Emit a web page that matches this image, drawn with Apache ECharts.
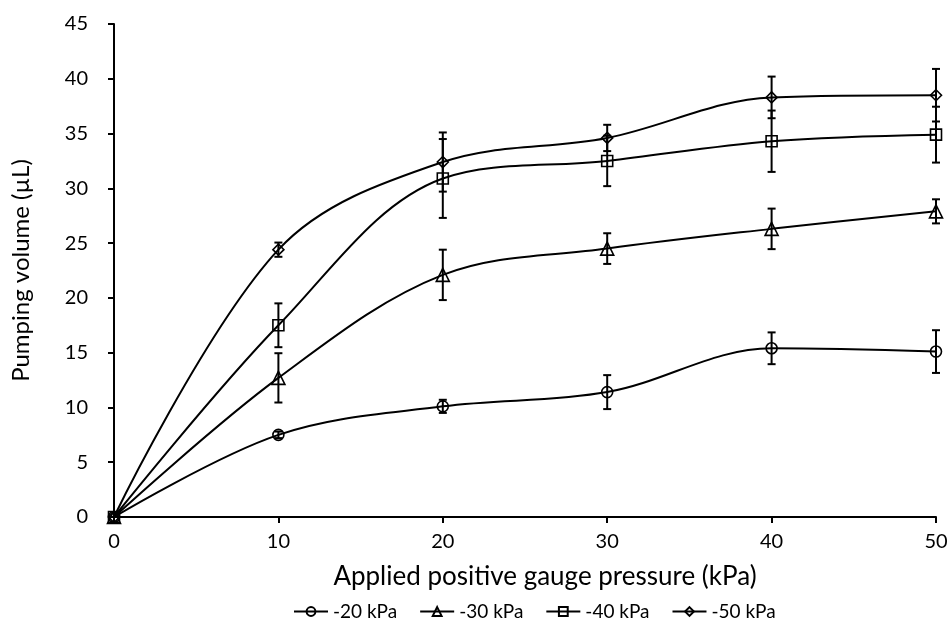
<!DOCTYPE html>
<html>
<head>
<meta charset="utf-8">
<script src="https://cdn.jsdelivr.net/npm/echarts@6/dist/echarts.min.js"></script>
<style>
  html, body { margin: 0; padding: 0; background: #fff; }
  #chart { width: 952px; height: 626px; }
</style>
</head>
<body>
<div id="chart"></div>
<script>
const pressure = [0, 10, 20, 30, 40, 50];
const seriesNames = ['-20 kPa', '-30 kPa', '-40 kPa', '-50 kPa'];
const symbols = ['circle', 'triangle', 'rect', 'diamond'];

const vol20 = [0, 7.5, 10.1, 11.4, 15.4, 15.1];
const err20 = [0, 0.3, 0.6, 1.55, 1.45, 1.95];
const vol30 = [0, 12.7, 22.1, 24.5, 26.3, 27.9];
const err30 = [0, 2.25, 2.3, 1.4, 1.85, 1.1];
const vol40 = [0, 17.5, 30.9, 32.5, 34.3, 34.9];
const err40 = [0, 2.0, 3.6, 2.3, 2.8, 2.55];
const vol50 = [0, 24.4, 32.4, 34.6, 38.3, 38.5];
const err50 = [0, 0.65, 2.7, 1.2, 1.9, 2.4];

const values = [vol20, vol30, vol40, vol50];
const errors = [err20, err30, err40, err50];

const font = 'Lato, "Open Sans", sans-serif';

const series = [];
values.forEach((v, i) => {
    series.push({
        name: seriesNames[i],
        type: 'line',
        smooth: 0.35,
        data: pressure.map((x, k) => [x, v[k]]),
        symbol: symbols[i],
        symbolSize: i === 1 ? 13 : 11,
        lineStyle: {color: '#000', width: 2},
        itemStyle: {color: 'rgba(255,255,255,0)', borderColor: '#000', borderWidth: 1.6},
        z: 3
    });
    // error bars
    series.push({
        name: seriesNames[i],
        type: 'custom',
        data: pressure.map((x, k) => [x, v[k] - errors[i][k], v[k] + errors[i][k]]),
        renderItem: (params, api) => {
            const lo = api.coord([api.value(0), api.value(1)]);
            const hi = api.coord([api.value(0), api.value(2)]);
            const w = 4;
            const style = {stroke: '#000', lineWidth: 2};
            return {
                type: 'group',
                children: [
                    {type: 'line', shape: {x1: lo[0], y1: lo[1], x2: hi[0], y2: hi[1]}, style: style},
                    {type: 'line', shape: {x1: lo[0] - w, y1: lo[1], x2: lo[0] + w, y2: lo[1]}, style: style},
                    {type: 'line', shape: {x1: hi[0] - w, y1: hi[1], x2: hi[0] + w, y2: hi[1]}, style: style}
                ]
            };
        },
        z: 2
    });
});

const chart = echarts.init(document.getElementById('chart'));
chart.setOption({
    backgroundColor: '#fff',
    animation: false,
    grid: {left: 114, right: 16, top: 24, bottom: 109},
    legend: {
        data: seriesNames,
        top: 597,
        left: 288,
        itemWidth: 34,
        itemHeight: 11,
        itemGap: 22,
        textStyle: {fontFamily: font, fontSize: 19, color: '#000'}
    },
    xAxis: {
        type: 'value',
        min: 0,
        max: 50,
        interval: 10,
        name: 'Applied positive gauge pressure (kPa)',
        nameLocation: 'middle',
        nameGap: 47,
        nameTextStyle: {fontFamily: font, fontSize: 26, color: '#000', padding: [0, 0, 0, 40]},
        axisLine: {lineStyle: {color: '#000', width: 2}},
        axisTick: {inside: false, length: 6, lineStyle: {color: '#000', width: 2}},
        axisLabel: {fontFamily: font, fontSize: 20, color: '#000', margin: 15},
        splitLine: {show: false}
    },
    yAxis: {
        type: 'value',
        min: 0,
        max: 45,
        interval: 5,
        name: 'Pumping volume (µL)',
        nameLocation: 'middle',
        nameGap: 81,
        nameTextStyle: {fontFamily: font, fontSize: 24, color: '#000'},
        axisLine: {show: true, lineStyle: {color: '#000', width: 2}},
        axisTick: {show: true, inside: false, length: 6, lineStyle: {color: '#000', width: 2}},
        axisLabel: {fontFamily: font, fontSize: 20, color: '#000', margin: 26},
        splitLine: {show: false}
    },
    series: series
});
</script>
</body>
</html>
